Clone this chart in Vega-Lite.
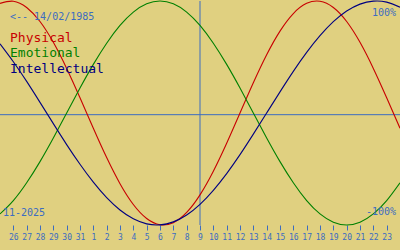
{
  "$schema": "https://vega.github.io/schema/vega-lite/v6.json",
  "width": 400,
  "height": 224,
  "autosize": {"type": "none"},
  "padding": {"top": 1, "left": 0, "right": 0, "bottom": 25},
  "background": "#e0d080",
  "config": {"view": {"stroke": null}},
  "datasets": {
    "bio": [
      {"d": 0, "Physical": 97.9, "Emotional": -90.1, "Intellectual": 61.8},
      {"d": 1, "Physical": 99.8, "Emotional": -78.2, "Intellectual": 45.8},
      {"d": 2, "Physical": 94.2, "Emotional": -62.3, "Intellectual": 28.2},
      {"d": 3, "Physical": 81.7, "Emotional": -43.4, "Intellectual": 9.5},
      {"d": 4, "Physical": 63.1, "Emotional": -22.3, "Intellectual": -9.5},
      {"d": 5, "Physical": 39.8, "Emotional": 0, "Intellectual": -28.2},
      {"d": 6, "Physical": 13.6, "Emotional": 22.3, "Intellectual": -45.8},
      {"d": 7, "Physical": -13.6, "Emotional": 43.4, "Intellectual": -61.8},
      {"d": 8, "Physical": -39.8, "Emotional": 62.3, "Intellectual": -75.6},
      {"d": 9, "Physical": -63.1, "Emotional": 78.2, "Intellectual": -86.6},
      {"d": 10, "Physical": -81.7, "Emotional": 90.1, "Intellectual": -94.5},
      {"d": 11, "Physical": -94.2, "Emotional": 97.5, "Intellectual": -99.0},
      {"d": 12, "Physical": -99.8, "Emotional": 100, "Intellectual": -99.9},
      {"d": 13, "Physical": -97.9, "Emotional": 97.5, "Intellectual": -97.2},
      {"d": 14, "Physical": -88.8, "Emotional": 90.1, "Intellectual": -91.0},
      {"d": 15, "Physical": -73.1, "Emotional": 78.2, "Intellectual": -81.5},
      {"d": 16, "Physical": -52.0, "Emotional": 62.3, "Intellectual": -69.0},
      {"d": 17, "Physical": -27.0, "Emotional": 43.4, "Intellectual": -54.1},
      {"d": 18, "Physical": 0, "Emotional": 22.3, "Intellectual": -37.2},
      {"d": 19, "Physical": 27.0, "Emotional": 0, "Intellectual": -18.9},
      {"d": 20, "Physical": 52.0, "Emotional": -22.3, "Intellectual": 0},
      {"d": 21, "Physical": 73.1, "Emotional": -43.4, "Intellectual": 18.9},
      {"d": 22, "Physical": 88.8, "Emotional": -62.3, "Intellectual": 37.2},
      {"d": 23, "Physical": 97.9, "Emotional": -78.2, "Intellectual": 54.1},
      {"d": 24, "Physical": 99.8, "Emotional": -90.1, "Intellectual": 69.0},
      {"d": 25, "Physical": 94.2, "Emotional": -97.5, "Intellectual": 81.5},
      {"d": 26, "Physical": 81.7, "Emotional": -100, "Intellectual": 91.0},
      {"d": 27, "Physical": 63.1, "Emotional": -97.5, "Intellectual": 97.2},
      {"d": 28, "Physical": 39.8, "Emotional": -90.1, "Intellectual": 99.9},
      {"d": 29, "Physical": 13.6, "Emotional": -78.2, "Intellectual": 99.0},
      {"d": 30, "Physical": -13.6, "Emotional": -62.3, "Intellectual": 94.5}
    ],
    "one": [{}]
  },
  "data": {"name": "one"},
  "encoding": {
    "x": {
      "type": "quantitative",
      "scale": {"domain": [0, 30], "nice": false, "zero": false},
      "axis": {
        "title": null,
        "domain": false,
        "grid": false,
        "values": [1,2,3,4,5,6,7,8,9,10,11,12,13,14,15,16,17,18,19,20,21,22,23,24,25,26,27,28,29],
        "labelExpr": "datum.value <= 6 ? '' + (datum.value + 25) : (datum.value <= 15 ? (datum.value - 6) + '\u00a0' : '' + (datum.value - 6))",
        "labelFont": "DejaVu Sans Mono",
        "labelFontSize": 8,
        "labelColor": "#3c6cc0",
        "labelPadding": 3,
        "labelOverlap": false,
        "labelFlush": false,
        "tickColor": "#3c6cc0",
        "tickSize": 5
      }
    },
    "y": {
      "type": "quantitative",
      "scale": {"domain": [-100, 100], "nice": false, "zero": false},
      "axis": null
    }
  },
  "layer": [
    {
      "mark": {"type": "rule", "color": "#3c6cc0", "strokeWidth": 1},
      "encoding": {"y": {"datum": -1.5, "type": "quantitative"}, "x": null}
    },
    {
      "mark": {"type": "rule", "color": "#3c6cc0", "strokeWidth": 1},
      "encoding": {"x": {"datum": 15, "type": "quantitative"}, "y": null}
    },
    {
      "data": {"name": "bio"},
      "transform": [{"fold": ["Physical", "Emotional", "Intellectual"], "as": ["series", "v"]}],
      "mark": {"type": "line", "strokeWidth": 1.1, "interpolate": "natural"},
      "encoding": {
        "x": {"field": "d", "type": "quantitative"},
        "y": {"field": "v", "type": "quantitative"},
        "color": {
          "field": "series",
          "type": "nominal",
          "scale": {"domain": ["Physical", "Emotional", "Intellectual"], "range": ["#c80000", "#008000", "#000080"]},
          "legend": null
        }
      }
    },
    {
      "mark": {"type": "text", "text": "<-- 14/02/1985", "align": "left", "baseline": "alphabetic", "font": "DejaVu Sans Mono", "fontSize": 10, "color": "#3c6cc0"},
      "encoding": {"x": {"datum": 0.75, "type": "quantitative"}, "y": {"datum": 83, "type": "quantitative"}}
    },
    {
      "mark": {"type": "text", "text": "Physical", "align": "left", "baseline": "alphabetic", "font": "DejaVu Sans Mono", "fontSize": 13, "color": "#c80000"},
      "encoding": {"x": {"datum": 0.75, "type": "quantitative"}, "y": {"datum": 63.8, "type": "quantitative"}}
    },
    {
      "mark": {"type": "text", "text": "Emotional", "align": "left", "baseline": "alphabetic", "font": "DejaVu Sans Mono", "fontSize": 13, "color": "#008000"},
      "encoding": {"x": {"datum": 0.75, "type": "quantitative"}, "y": {"datum": 50, "type": "quantitative"}}
    },
    {
      "mark": {"type": "text", "text": "Intellectual", "align": "left", "baseline": "alphabetic", "font": "DejaVu Sans Mono", "fontSize": 13, "color": "#000080"},
      "encoding": {"x": {"datum": 0.75, "type": "quantitative"}, "y": {"datum": 35.7, "type": "quantitative"}}
    },
    {
      "mark": {"type": "text", "text": "11-2025", "align": "left", "baseline": "alphabetic", "font": "DejaVu Sans Mono", "fontSize": 10, "color": "#3c6cc0"},
      "encoding": {"x": {"datum": 0.22, "type": "quantitative"}, "y": {"datum": -92, "type": "quantitative"}}
    },
    {
      "mark": {"type": "text", "text": "100%", "align": "right", "baseline": "alphabetic", "font": "DejaVu Sans Mono", "fontSize": 10, "color": "#3c6cc0"},
      "encoding": {"x": {"datum": 29.7, "type": "quantitative"}, "y": {"datum": 86.6, "type": "quantitative"}}
    },
    {
      "mark": {"type": "text", "text": "-100%", "align": "right", "baseline": "alphabetic", "font": "DejaVu Sans Mono", "fontSize": 10, "color": "#3c6cc0"},
      "encoding": {"x": {"datum": 29.7, "type": "quantitative"}, "y": {"datum": -91.1, "type": "quantitative"}}
    }
  ]
}
